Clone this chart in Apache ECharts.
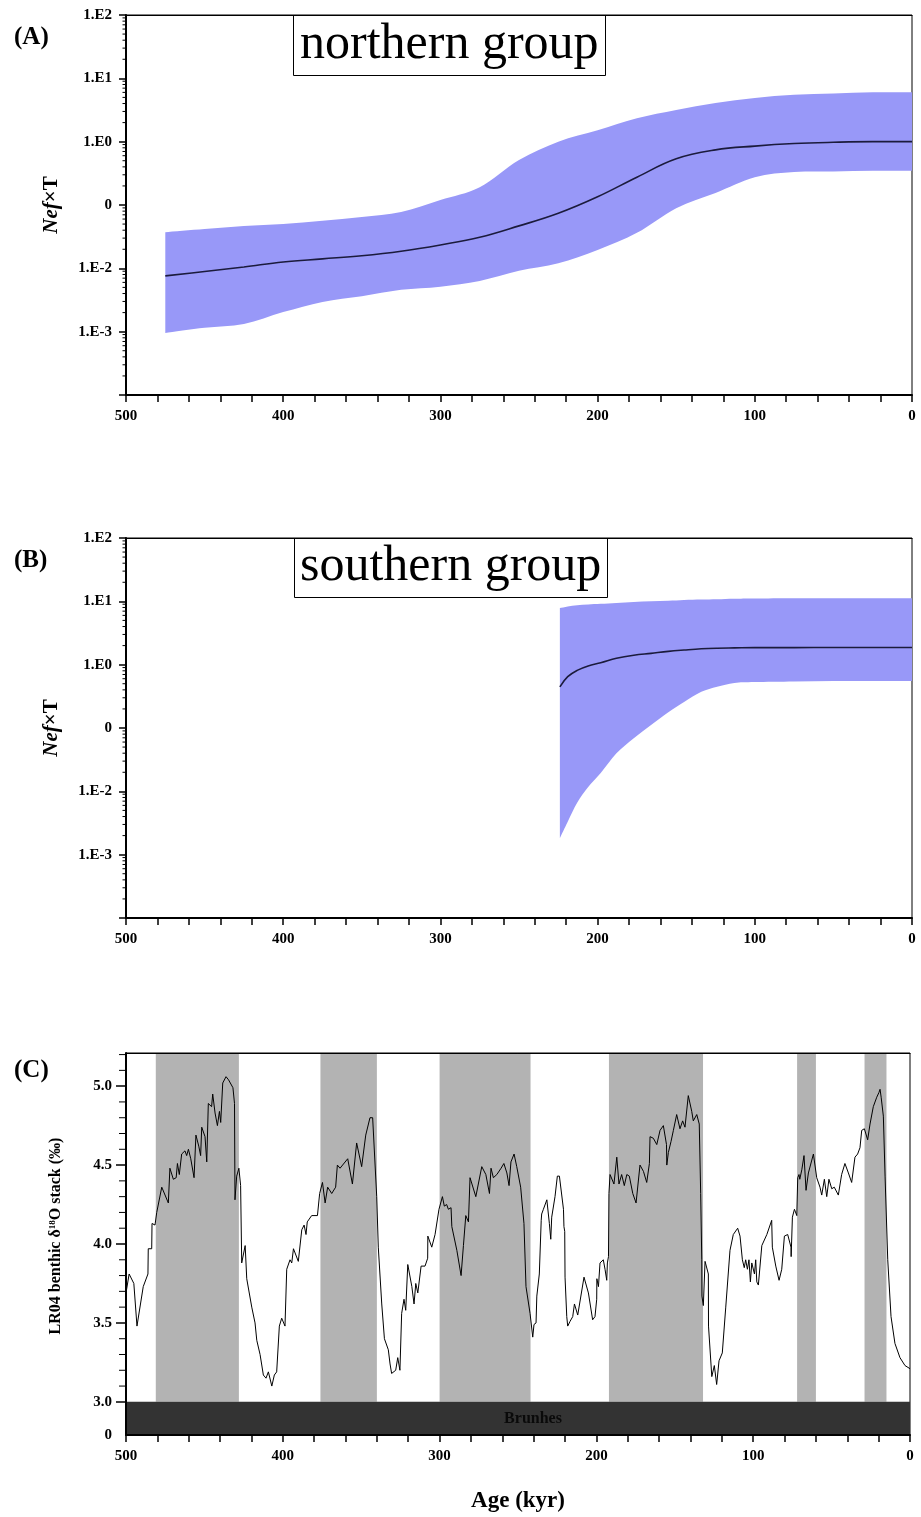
<!DOCTYPE html>
<html>
<head>
<meta charset="utf-8">
<script src="https://cdn.jsdelivr.net/npm/echarts@6/dist/echarts.min.js"></script>
<style>
html,body{margin:0;padding:0;background:#fff;}
#chart{width:921px;height:1517px;}
</style>
</head>
<body>
<div id="chart"></div>
<script>
// ---------------- DATA ----------------
// Panel A : northern group (age kyr, Nef x T)
const ageA   = [475,450,425,400,375,350,325,300,275,250,225,200,175,150,125,100,75,50,25,0];
const meanA  = [0.0076,0.0089,0.0105,0.0126,0.0141,0.0158,0.0186,0.0234,0.0309,0.0468,0.0741,0.135,0.275,0.537,0.741,0.851,0.933,0.977,1.0,1.0];
const upperA = [0.0372,0.0417,0.0468,0.0501,0.0562,0.0646,0.0776,0.120,0.191,0.513,1.0,1.51,2.34,3.16,4.07,4.90,5.50,5.75,6.03,6.03];
const lowerA = [0.000955,0.00115,0.00132,0.00204,0.00295,0.00363,0.00457,0.00513,0.00631,0.00912,0.0120,0.0195,0.0363,0.0891,0.155,0.275,0.331,0.339,0.347,0.347];

// Panel B : southern group
const ageB   = [224,219,213,206,198,188,177,166,155,145,134,124,113,100,75,50,25,0];
const meanB  = [0.447,0.646,0.813,0.955,1.07,1.26,1.41,1.51,1.62,1.70,1.78,1.82,1.84,1.86,1.86,1.87,1.87,1.87];
const upperB = [7.85,8.32,8.71,8.91,9.12,9.44,9.77,10.0,10.2,10.5,10.7,10.8,11.0,11.1,11.2,11.2,11.2,11.2];
const lowerB = [0.00182,0.00331,0.0066,0.0117,0.0195,0.0398,0.0692,0.112,0.178,0.257,0.372,0.447,0.513,0.531,0.543,0.55,0.55,0.55];

// Log-axis tick labels
const logTickExp  = [-3,-2,-1,0,1,2];
const logTickText = ['1.E-3','1.E-2','0','1.E0','1.E1','1.E2'];
const logMinorMult = [2,3,4,5,6,7,8,9];

// Panel C : LR04 benthic d18O stack
const lr04Age = [500,498,495,493,489,486,485.8,483.6,483.4,481.5,480.4,477.2,473,472,469.8,468,467.2,466,464.5,462.4,461.3,460.2,458.7,456.6,455.4,453.6,452.4,451.7,449.6,448.5,447.5,445.4,444.7,443.2,441.7,440.4,439.6,438.3,436.2,434.6,431.8,430.8,430.5,429.4,428,426.9,426.2,424,423,422,419.8,417.7,416.6,414.5,412.4,410.7,409.2,407,405.4,403.9,402.2,400.7,398.6,397.5,395.4,394.3,393.2,390.1,387.9,386.4,385.2,384.4,381.6,377.9,376.5,374.7,373,371.4,368.8,366.3,365.2,363.5,358.6,355.6,352.9,349.7,347.1,344.4,342.7,340.1,339.1,336.9,335.2,332.7,331.6,330.6,328,326.7,325.3,324.2,322.7,321.6,320.3,317.7,316.3,315.2,313.9,311.8,309.3,307.6,307.5,305,302.9,300.4,298.2,297,295.5,294.4,292.7,292.2,289,286.3,284.8,283.3,281.6,280.6,276.9,273.1,270.5,268.2,267.2,265.7,263.5,260.8,259,257.1,255.7,254.5,252.5,250.8,248.3,246.2,244.9,242.3,240.6,239.8,238.5,238,237,236.4,235.2,234.9,233.8,231.6,230,229.1,228.5,226.4,224.9,223.6,221,220.7,220.2,220,218.9,218.3,216.8,215.1,214,213,211.9,207.9,205.1,202.4,200.9,199.8,199.7,198.7,197.7,195.6,194.5,193.4,193,192.3,192,191.3,188.8,187,185.6,183.9,182.2,180.6,179,176.8,174.7,172.2,170,167.9,166.2,165.8,163.7,161.5,159.4,157.3,155.3,155.1,154.1,152.4,150.9,149.7,148.8,146.7,145,143.5,141.4,139.2,138.2,136,134.4,133.5,132.8,132.7,131.8,130.7,128.6,128.5,126.4,124.8,123.3,121.8,119.7,117.5,114.8,112.7,109.9,108.4,106.9,105.7,104.8,103.7,102.7,101.8,100.9,99.2,98.4,97.7,96.7,94.5,91.3,88.2,87.8,85.6,83.5,81.8,80.1,78,75.9,75.8,75,73.7,72.2,71.6,70.8,70.3,69,67.6,66.3,64.8,61.6,59.5,57.4,56.3,54.6,53.1,51.7,49.9,48.3,45.7,43.6,41.5,39.3,37.2,35.1,33.4,31.9,30.8,29.1,27,25.5,23.4,21.2,19.8,19.1,18.4,17,15.9,14.2,12.1,9.6,6.4,3.2,0];
const lr04Val = [3.69,3.81,3.75,3.48,3.73,3.81,3.97,3.97,4.13,4.12,4.20,4.36,4.26,4.48,4.41,4.42,4.51,4.44,4.57,4.59,4.56,4.60,4.54,4.42,4.69,4.62,4.56,4.74,4.68,4.52,4.89,4.87,4.95,4.83,4.75,4.84,4.77,5.02,5.06,5.04,4.99,4.89,4.28,4.43,4.48,4.37,3.88,3.99,3.78,3.77,3.60,3.50,3.39,3.30,3.17,3.15,3.19,3.10,3.17,3.19,3.48,3.53,3.48,3.84,3.90,3.88,3.97,3.89,4.09,4.12,4.06,4.14,4.18,4.18,4.32,4.39,4.26,4.36,4.32,4.36,4.50,4.48,4.54,4.38,4.64,4.49,4.69,4.80,4.80,4.30,3.98,3.62,3.40,3.33,3.24,3.18,3.20,3.28,3.20,3.56,3.65,3.58,3.87,3.73,3.62,3.75,3.69,3.86,3.86,3.91,4.05,3.98,4.06,4.22,4.30,4.24,4.25,4.22,4.23,4.11,3.96,3.80,3.99,4.18,4.14,4.42,4.30,4.49,4.44,4.32,4.48,4.42,4.44,4.48,4.51,4.45,4.37,4.52,4.57,4.49,4.36,4.13,3.73,3.56,3.41,3.49,3.50,3.67,3.67,3.81,4.15,4.19,4.22,4.28,4.13,4.03,4.17,4.30,4.43,4.43,4.22,4.11,4.08,3.79,3.54,3.48,3.51,3.54,3.62,3.62,3.55,3.79,3.69,3.52,3.54,3.65,3.78,3.73,3.88,3.90,3.84,3.77,3.88,3.92,4.32,4.44,4.38,4.55,4.38,4.44,4.37,4.44,4.43,4.32,4.26,4.50,4.46,4.39,4.51,4.68,4.67,4.63,4.72,4.75,4.63,4.50,4.58,4.65,4.72,4.71,4.82,4.73,4.78,4.74,4.94,4.84,4.78,4.82,4.76,4.32,3.90,3.67,3.61,3.89,3.81,3.48,3.16,3.23,3.11,3.26,3.31,3.60,3.96,4.06,4.10,4.05,3.90,3.85,3.90,3.84,3.90,3.76,3.88,3.81,3.90,3.76,3.74,3.99,4.06,4.15,3.98,3.86,3.77,3.84,4.05,4.06,3.98,3.92,4.17,4.22,4.18,4.42,4.44,4.41,4.47,4.56,4.34,4.45,4.57,4.42,4.36,4.31,4.41,4.30,4.41,4.35,4.36,4.31,4.44,4.51,4.45,4.39,4.55,4.57,4.61,4.72,4.73,4.66,4.76,4.87,4.93,4.96,4.98,4.93,4.81,4.43,3.90,3.54,3.37,3.28,3.23,3.21];

// Glacial (grey) intervals in panel C, kyr
const misStart = [481,376,300,192,72,29];
const misEnd   = [428,340,242,132,60,15];

// Panel C y-axis ticks
const cMajorTicks = [3.0,3.5,4.0,4.5,5.0];
const cMinorTicks = [3.1,3.2,3.3,3.4,3.6,3.7,3.8,3.9,4.1,4.2,4.3,4.4,4.6,4.7,4.8,4.9,5.1,5.2];
const cYMin = 2.79, cYMax = 5.21;
const ageLabels = [0,100,200,300,400,500];

// ---------------- STYLE ----------------
const FONT = '"Liberation Serif","Times New Roman",serif';
const BAND = '#9898f8';
const MEAN = '#1b1b3c';

const pair = (xs, ys) => xs.map((x, i) => [x, ys[i]]);
const logMajor = [-4,-3,-2,-1,0,1,2].map(e => Math.pow(10, e));
const logMinor = [];
for (let e = -4; e < 2; e++) logMinorMult.forEach(m => logMinor.push(m * Math.pow(10, e)));
const logLabelFmt = v => {
  const e = Math.round(Math.log10(v));
  const i = logTickExp.indexOf(e);
  return i >= 0 ? logTickText[i] : '';
};

const labelStyle = {color:'#000', fontFamily:FONT, fontWeight:'bold', fontSize:15};

function ageAxes(g, withName) {
  const bottom = {
    type:'value', gridIndex:g, min:0, max:500, interval:20, inverse:true, position:'bottom', z:10,
    axisLine:{show:true, onZero:false, lineStyle:{color:'#000', width:2}},
    axisTick:{show:true, length:7, lineStyle:{color:'#000', width:1.5}},
    axisLabel:Object.assign({show:true, customValues:ageLabels, margin:14}, labelStyle),
    splitLine:{show:false}
  };
  if (withName) {
    bottom.name = 'Age (kyr)';
    bottom.nameLocation = 'middle';
    bottom.nameGap = 55;
    bottom.nameTextStyle = {color:'#000', fontFamily:FONT, fontWeight:'bold', fontSize:23};
  }
  const top = {
    type:'value', gridIndex:g, min:0, max:500, inverse:true, position:'top', z:10,
    axisLine:{show:true, onZero:false, lineStyle:{color:'#000', width:1}},
    axisTick:{show:false}, axisLabel:{show:false}, splitLine:{show:false}
  };
  return [bottom, top];
}

function logYAxis(g) {
  return {
    type:'log', logBase:10, gridIndex:g, min:1e-4, max:100, position:'left', z:10,
    axisLine:{show:true, onZero:false, lineStyle:{color:'#000', width:2}},
    axisTick:{show:true, length:7, customValues:logMajor, lineStyle:{color:'#000', width:1.5}},
    axisLabel:Object.assign({show:true, customValues:logTickExp.map(e => Math.pow(10, e)), formatter:logLabelFmt, margin:14}, labelStyle),
    splitLine:{show:false},
    name:'{i|Nef}{b|×T}', nameLocation:'middle', nameRotate:90, nameGap:64,
    nameTextStyle:{color:'#000', fontFamily:FONT, fontWeight:'bold', fontSize:21,
      rich:{
        i:{fontStyle:'italic', fontWeight:'bold', fontFamily:FONT, fontSize:21, color:'#000'},
        b:{fontWeight:'bold', fontFamily:FONT, fontSize:21, color:'#000'}
      }}
  };
}

const cYAxis = {
  type:'value', gridIndex:2, min:cYMin, max:cYMax, position:'left', z:10,
  axisLine:{show:true, onZero:false, lineStyle:{color:'#000', width:2}},
  axisTick:{show:true, length:10, customValues:cMajorTicks, lineStyle:{color:'#000', width:1.5}},
  axisLabel:Object.assign({show:true, customValues:[cYMin].concat(cMajorTicks), margin:14,
    formatter: v => (v < 2.9 ? '0' : v.toFixed(1))}, labelStyle),
  splitLine:{show:false},
  name:'LR04 benthic δ{sup|18}O stack (‰)', nameLocation:'middle', nameRotate:90, nameGap:62,
  nameTextStyle:{color:'#000', fontFamily:FONT, fontWeight:'bold', fontSize:16, padding:[0,0,0,16],
    rich:{sup:{fontFamily:FONT, fontWeight:'bold', fontSize:9, color:'#000', padding:[0,0,7,0]}}}
};

// Catmull-Rom spline through pixel points -> SVG path segments
function splineSeg(pts, moveFirst) {
  let d = (moveFirst ? 'M' : 'L') + pts[0][0] + ',' + pts[0][1];
  for (let i = 0; i < pts.length - 1; i++) {
    const p0 = pts[Math.max(i - 1, 0)], p1 = pts[i], p2 = pts[i + 1], p3 = pts[Math.min(i + 2, pts.length - 1)];
    const c1x = p1[0] + (p2[0] - p0[0]) / 6, c1y = p1[1] + (p2[1] - p0[1]) / 6;
    const c2x = p2[0] - (p3[0] - p1[0]) / 6, c2y = p2[1] - (p3[1] - p1[1]) / 6;
    d += 'C' + c1x + ',' + c1y + ',' + c2x + ',' + c2y + ',' + p2[0] + ',' + p2[1];
  }
  return d;
}

function bandSeries(xi, yi, ages, up, lo) {
  return {
    type:'custom', xAxisIndex:xi, yAxisIndex:yi, silent:true, z:2,
    data:ages.map((a, i) => [a, up[i], lo[i]]),
    encode:{x:0, y:[1, 2]},
    renderItem:function (params, api) {
      if (params.dataIndex !== 0) return null;
      const top = ages.map((a, i) => api.coord([a, up[i]]));
      const bot = ages.map((a, i) => api.coord([a, lo[i]])).reverse();
      const d = splineSeg(top, true) + splineSeg(bot, false) + 'Z';
      return {type:'path', shape:{pathData:d}, style:{fill:BAND, stroke:null}};
    }
  };
}

function meanSeries(xi, yi, ages, mean) {
  return {type:'line', xAxisIndex:xi, yAxisIndex:yi, data:pair(ages, mean), smooth:0.4, showSymbol:false, silent:true,
    lineStyle:{color:MEAN, width:1.6}, z:3};
}

// minor ticks drawn at the left axis edge (x = 500 kyr) through the axis scale
function minorTickSeries(xi, yi, values, len) {
  return {
    type:'custom', xAxisIndex:xi, yAxisIndex:yi, silent:true, z:11,
    data:values.map(v => [500, v]),
    renderItem:function (params, api) {
      const p = api.coord([api.value(0), api.value(1)]);
      return {type:'line', shape:{x1:p[0] - len, y1:p[1], x2:p[0], y2:p[1]}, style:{stroke:'#000', lineWidth:1}};
    }
  };
}

const misAreas = misStart.map((s, i) => [{xAxis:s, yAxis:3.0}, {xAxis:misEnd[i], yAxis:cYMax}]);

const gridBorder = {show:true, borderColor:'#000', borderWidth:1, backgroundColor:'transparent'};

const option = {
  animation:false,
  backgroundColor:'#fff',
  title:[
    {text:'(A)', left:9, top:20, textStyle:{fontFamily:FONT, fontWeight:'bold', fontSize:25, color:'#000'}},
    {text:'(B)', left:9, top:543, textStyle:{fontFamily:FONT, fontWeight:'bold', fontSize:25, color:'#000'}},
    {text:'(C)', left:9, top:1053, textStyle:{fontFamily:FONT, fontWeight:'bold', fontSize:25, color:'#000'}},
    {text:'northern group', left:293, top:15, padding:[1,7,2,7], borderColor:'#000', borderWidth:1,
      textStyle:{fontFamily:FONT, fontWeight:'normal', fontSize:50, lineHeight:58, color:'#000'}},
    {text:'southern group', left:294, top:538, padding:[0,6,2,6], borderColor:'#000', borderWidth:1,
      textStyle:{fontFamily:FONT, fontWeight:'normal', fontSize:50, lineHeight:58, color:'#000'}}
  ],
  grid:[
    Object.assign({left:126, width:786, top:15, height:380}, gridBorder),
    Object.assign({left:126, width:786, top:538, height:380}, gridBorder),
    Object.assign({left:126, width:784, top:1053, height:382}, gridBorder)
  ],
  xAxis:[].concat(ageAxes(0,false), ageAxes(1,false), ageAxes(2,true)),
  yAxis:[logYAxis(0), logYAxis(1), cYAxis],
  series:[
    bandSeries(0, 0, ageA, upperA, lowerA),
    meanSeries(0, 0, ageA, meanA),
    minorTickSeries(0, 0, logMinor, 3.5),
    bandSeries(2, 1, ageB, upperB, lowerB),
    meanSeries(2, 1, ageB, meanB),
    minorTickSeries(2, 1, logMinor, 3.5),
    {type:'line', xAxisIndex:4, yAxisIndex:2, data:[], silent:true, z:1,
      markArea:{silent:true, itemStyle:{color:'#b3b3b3', opacity:1}, data:misAreas}},
    {type:'line', xAxisIndex:4, yAxisIndex:2, data:[], silent:true, z:1,
      markArea:{silent:true, itemStyle:{color:'#333333', opacity:1},
        label:{show:true, position:'inside', offset:[15,0], color:'#0a0a0a', fontFamily:FONT, fontWeight:'bold', fontSize:16},
        data:[[{name:'Brunhes', xAxis:500, yAxis:cYMin}, {xAxis:0, yAxis:3.0}]]}},
    {type:'line', xAxisIndex:4, yAxisIndex:2, data:pair(lr04Age, lr04Val), showSymbol:false, silent:true,
      lineStyle:{color:'#000', width:1}, z:3},
    minorTickSeries(4, 2, cMinorTicks, 7)
  ]
};

const chart = echarts.init(document.getElementById('chart'), null, {renderer:'canvas'});
chart.setOption(option);
</script>
</body>
</html>
